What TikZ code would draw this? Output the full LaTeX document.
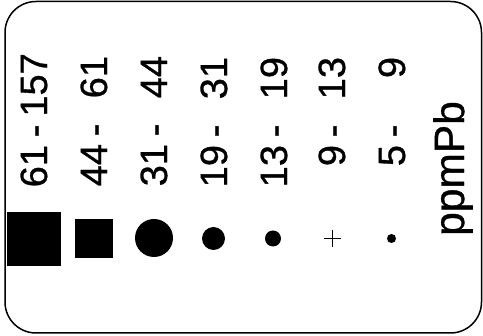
\documentclass[tikz,border=0pt]{standalone}
\usepackage{fontspec}
\setmainfont{Liberation Sans}
\newfontfamily\legendfont{Liberation Sans}[FakeBold=0.8]
\usetikzlibrary{positioning}

% lower bound, dash, upper bound (bounds kept in fixed columns)
\newcommand{\lvlrange}[3][67.7pt]{\llap{#2\hspace{7.7pt}}-\rlap{\makebox[#1][r]{#3}}}

\begin{document}
\begin{tikzpicture}[
    x=1pt, y=-1pt,
    rangelbl/.style={rotate=90, anchor=base, inner sep=0pt, font=\legendfont\fontsize{38}{42}\selectfont},
    unitlbl/.style={rotate=90, anchor=base, inner sep=0pt, font=\legendfont\fontsize{42.5}{48}\selectfont},
    sqmark/.style={rectangle, fill=black, inner sep=0pt},
    dotmark/.style={circle, fill=black, inner sep=0pt},
    legendframe/.style={draw=black, line width=1.5pt, rounded corners=31pt}
]
    \useasboundingbox (0,0) rectangle (483,336);
    \draw [legendframe] (5,1.5) rectangle (481.5,333);

    % range labels
    \node [rangelbl] (r1) at (47,131) {\lvlrange[71.5pt]{61}{157}};
    \node [rangelbl] (r2) at (107,130) {\lvlrange{44}{61}};
    \node [rangelbl] (r3) at (167,130) {\lvlrange{31}{44}};
    \node [rangelbl] (r4) at (227,131) {\lvlrange{19}{31}};
    \node [rangelbl] (r5) at (287,131) {\lvlrange{13}{19}};
    \node [rangelbl] (r6) at (345,131) {\lvlrange{9}{13}};
    \node [rangelbl] (r7) at (405,131) {\lvlrange{5}{9}};
    \node [unitlbl] (u) at (464,168.5) {ppmPb};

    % symbols
    \node [sqmark, minimum size=54pt] (m1) at (34,239) {};
    \node [sqmark, minimum size=38.5pt] (m2) at (94,238.5) {};
    \node [dotmark, minimum size=38pt] (m3) at (154,238) {};
    \node [dotmark, minimum size=23pt] (m4) at (213.5,238.5) {};
    \node [dotmark, minimum size=16pt] (m5) at (273,238.5) {};
    \coordinate (m6) at (332.5,238.5);
    \draw [line width=1.5pt] ([xshift=-8.5pt]m6) -- ([xshift=8.5pt]m6);
    \draw [line width=1.5pt] ([yshift=-8.5pt]m6) -- ([yshift=8.5pt]m6);
    \node [dotmark, minimum size=9pt] (m7) at (391.5,238.5) {};
\end{tikzpicture}
\end{document}
